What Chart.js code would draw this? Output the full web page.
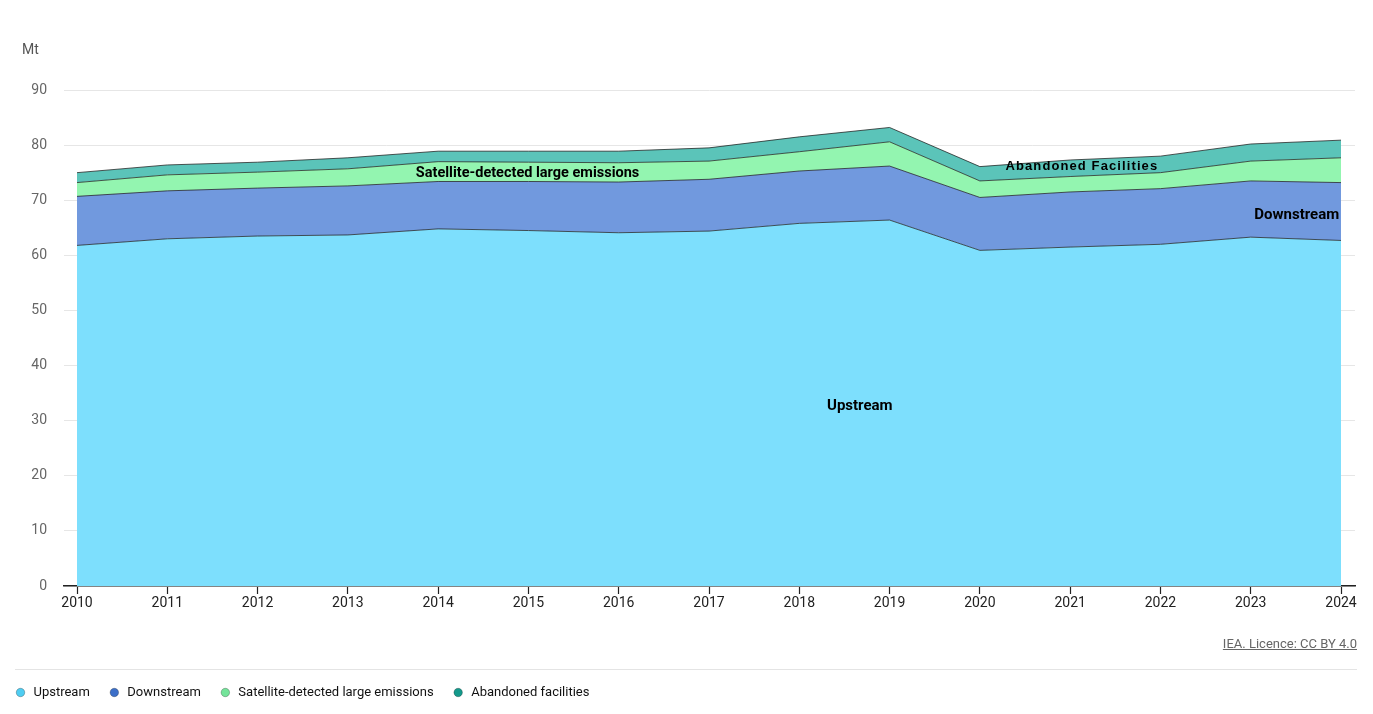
<!DOCTYPE html>
<html>
<head>
<meta charset="utf-8">
<title>Methane emissions from oil and gas</title>
<script src="https://cdn.jsdelivr.net/npm/chart.js@4.4.1/dist/chart.umd.min.js"></script>
<style>
  body { margin: 0; background: #fff; font-family: Roboto, sans-serif; }
  #wrap { position: relative; width: 1373px; height: 714px; }
  #unit { position: absolute; left: 22px; top: 41px; font-size: 14px; color: #555; }
  #source { position: absolute; right: 16px; top: 636px; font-size: 13px; color: #666; text-decoration: underline; }
  #rule { position: absolute; left: 15px; width: 1342px; top: 669px; border-top: 1px solid #e4e4e4; }
</style>
</head>
<body>
<div id="wrap">
  <canvas id="chart" width="1373" height="714"></canvas>
  <div id="unit">Mt</div>
  <div id="rule"></div>
  <div id="source">IEA. Licence: CC BY 4.0</div>
</div>
<script>
const years = [2010, 2011, 2012, 2013, 2014, 2015, 2016, 2017, 2018, 2019, 2020, 2021, 2022, 2023, 2024];
const upstream = [61.8, 63.0, 63.5, 63.7, 64.8, 64.5, 64.1, 64.4, 65.8, 66.4, 60.9, 61.5, 62.0, 63.3, 62.7];
const downstream = [8.9, 8.7, 8.7, 8.9, 8.6, 8.9, 9.2, 9.4, 9.5, 9.8, 9.6, 10.0, 10.1, 10.2, 10.5];
const satellite = [2.5, 2.9, 2.9, 3.1, 3.6, 3.5, 3.5, 3.3, 3.5, 4.4, 3.0, 2.8, 2.9, 3.6, 4.5];
const abandoned = [1.8, 1.8, 1.8, 2.0, 1.9, 2.0, 2.1, 2.4, 2.7, 2.6, 2.6, 3.0, 3.0, 3.1, 3.2];
const yTicks = [0, 10, 20, 30, 40, 50, 60, 70, 80, 90];

const fills = ['#7ddffd', '#7199de', '#93f5b0', '#5bc4b9'];
const dots = ['#4fcdf2', '#3c6fc8', '#74e49a', '#14998b'];

const toPoints = arr => years.map((y, i) => ({ x: y, y: arr[i] }));

// labels written inside the areas
const areaLabels = [
  { text: 'Upstream', x: 2018.67, y: 32.7, font: 'bold 15px Roboto', spacing: '0px' },
  { text: 'Downstream', x: 2023.51, y: 67.3, font: 'bold 15px Roboto', spacing: '0px' },
  { text: 'Satellite-detected large emissions', x: 2014.99, y: 74.9, font: 'bold 14.5px Roboto', spacing: '0px' },
  { text: 'Abandoned Facilities', x: 2021.13, y: 76.2, font: 'bold 13px "Liberation Sans"', spacing: '1.1px' }
];

const labelPlugin = {
  id: 'areaLabels',
  afterDatasetsDraw(chart) {
    const { ctx, scales } = chart;
    ctx.save();
    ctx.fillStyle = '#000';
    ctx.textAlign = 'center';
    ctx.textBaseline = 'middle';
    areaLabels.forEach(l => {
      ctx.font = l.font;
      ctx.letterSpacing = l.spacing;
      ctx.fillText(l.text, scales.x.getPixelForValue(l.x), scales.y.getPixelForValue(l.y));
    });
    ctx.restore();
  }
};

const legendPlace = {
  id: 'legendPlace',
  afterLayout(chart) {
    const lg = chart.legend;
    lg.left = -4;
    lg.top = 668;
  }
};

const lineStyle = { borderColor: 'rgba(30,30,30,0.75)', borderWidth: 1, pointRadius: 0, tension: 0 };

new Chart(document.getElementById('chart'), {
  type: 'line',
  data: {
    datasets: [
      { label: 'Upstream', data: toPoints(upstream), backgroundColor: fills[0], fill: 'origin', ...lineStyle },
      { label: 'Downstream', data: toPoints(downstream), backgroundColor: fills[1], fill: '-1', ...lineStyle },
      { label: 'Satellite-detected large emissions', data: toPoints(satellite), backgroundColor: fills[2], fill: '-1', ...lineStyle },
      { label: 'Abandoned facilities', data: toPoints(abandoned), backgroundColor: fills[3], fill: '-1', ...lineStyle }
    ]
  },
  options: {
    responsive: false,
    animation: false,
    layout: { padding: { top: 90, right: 18, bottom: 0, left: 0 } },
    scales: {
      x: {
        type: 'linear',
        min: 2009.856,
        max: 2024.155,
        afterBuildTicks: s => { s.ticks = years.map(v => ({ value: v })); },
        afterFit: s => { s.height = 87; },
        ticks: { callback: v => String(v), color: '#222', font: { size: 14, family: 'Roboto' }, padding: 1, maxRotation: 0 },
        grid: { drawOnChartArea: false, drawTicks: true, tickLength: 8, tickColor: '#222', tickWidth: 1.2 },
        border: { color: '#222', width: 1.5 }
      },
      y: {
        stacked: true,
        min: 0,
        max: 90,
        afterBuildTicks: s => { s.ticks = yTicks.map(v => ({ value: v })); },
        afterFit: s => { s.width = 64; },
        ticks: { color: '#666', font: { size: 14, family: 'Roboto' }, padding: 17 },
        grid: { color: '#e6e6e6', drawTicks: false },
        border: { display: false }
      }
    },
    plugins: {
      tooltip: { enabled: false },
      legend: {
        position: 'bottom',
        align: 'start',
        labels: {
          usePointStyle: true,
          boxWidth: 13,
          boxHeight: 6,
          padding: 18,
          color: '#111',
          font: { size: 13, family: 'Roboto' },
          generateLabels(chart) {
            const items = Chart.defaults.plugins.legend.labels.generateLabels(chart);
            items.forEach((it, i) => {
              it.fillStyle = dots[i];
              it.strokeStyle = 'rgba(0,0,0,0.25)';
              it.lineWidth = 1;
              it.pointStyle = 'circle';
            });
            return items;
          }
        }
      }
    }
  },
  plugins: [labelPlugin, legendPlace]
});
</script>
</body>
</html>
